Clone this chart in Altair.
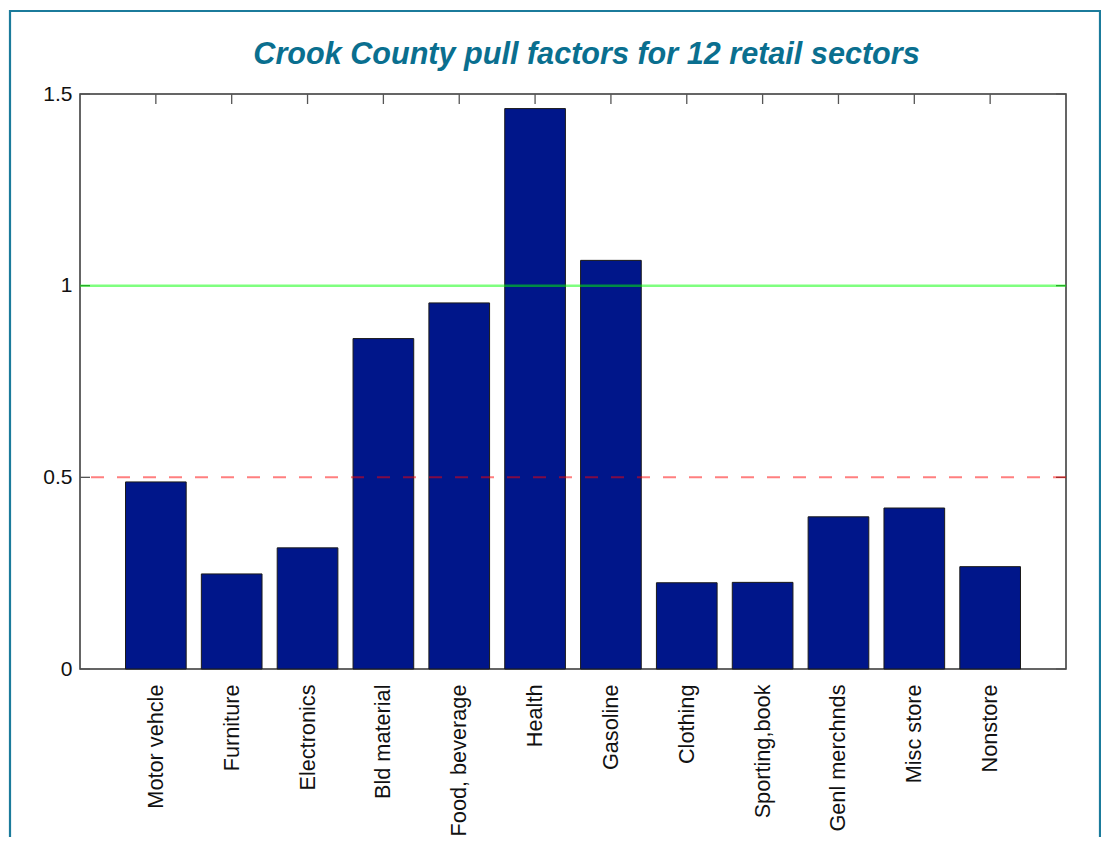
import altair as alt
import pandas as pd

# ---- data ----
sectors = ["Motor vehcle", "Furniture", "Electronics", "Bld material",
           "Food, beverage", "Health", "Gasoline", "Clothing",
           "Sporting,book", "Genl merchnds", "Misc store", "Nonstore"]
pull = [0.488, 0.248, 0.316, 0.862, 0.955, 1.462, 1.066, 0.225,
        0.226, 0.397, 0.420, 0.267]
green_level = [1.0]
red_level = [0.5]
y_ticks = [0, 0.5, 1, 1.5]
title_text = ["Crook County pull factors for 12 retail sectors"]

W, H = 986, 575
FONT = "Liberation Sans"

df = pd.DataFrame({"sector": sectors, "pull": pull})
ticks_df = pd.DataFrame({"v": y_ticks})

xs = alt.Scale(domain=sectors, paddingInner=0.2, paddingOuter=0.6)
ys = alt.Scale(domain=[0, 1.5], nice=False, zero=True)

x_axis = alt.Axis(title=None, labelAngle=-90, labelAlign="right",
                  labelBaseline="middle", labelPadding=15,
                  ticks=False, domain=False, labelFontSize=21.7,
                  labelColor="#111111", labelFont=FONT)
y_axis = alt.Axis(title=None, values=y_ticks, format="~g",
                  ticks=False, domain=False, grid=False,
                  labelPadding=8, labelFontSize=21,
                  labelColor="#111111", labelFont=FONT)

bars = alt.Chart(df).mark_bar(
    color="#00168a", stroke="#1a1a1a", strokeWidth=1
).encode(
    x=alt.X("sector:N", scale=xs, sort=sectors, axis=x_axis),
    y=alt.Y("pull:Q", scale=ys, axis=y_axis),
)

top_ticks = alt.Chart(df).mark_rule(color="#555555", strokeWidth=1.3).encode(
    x=alt.X("sector:N", scale=xs, sort=sectors, axis=x_axis),
    y=alt.value(0), y2=alt.value(10),
)

left_ticks = alt.Chart(ticks_df).mark_rule(color="#555555", strokeWidth=1.3).encode(
    y=alt.Y("v:Q", scale=ys, axis=y_axis),
    x=alt.value(0), x2=alt.value(10),
)
right_ticks = alt.Chart(ticks_df).mark_rule(color="#555555", strokeWidth=1.3).encode(
    y=alt.Y("v:Q", scale=ys, axis=y_axis),
    x=alt.value(W - 10), x2=alt.value(W),
)

green = alt.Chart(pd.DataFrame({"v": green_level})).mark_rule(
    color="#00ff00", opacity=0.5, strokeWidth=2.5
).encode(y=alt.Y("v:Q", scale=ys, axis=y_axis))

red = alt.Chart(pd.DataFrame({"v": red_level})).mark_rule(
    color="#ff0000", opacity=0.5, strokeWidth=2, strokeDash=[13, 13]
).encode(y=alt.Y("v:Q", scale=ys, axis=y_axis))

frame = alt.Chart(pd.DataFrame({"a": [0]})).mark_rect(
    fillOpacity=0, stroke="#1b7b9b", strokeWidth=2.2
).encode(
    x=alt.value(-70), x2=alt.value(1020),
    y=alt.value(-83), y2=alt.value(900),
)

title = alt.Chart(pd.DataFrame({"t": title_text})).mark_text(
    font=FONT, fontSize=30.6, fontStyle="italic",
    fontWeight="bold", color="#0a6f8f", align="center",
    baseline="alphabetic",
).encode(text="t:N", x=alt.value(W / 2 + 13.5), y=alt.value(-30))

chart = alt.layer(
    bars, top_ticks, left_ticks, right_ticks, green, red, frame, title
).properties(
    width=W, height=H,
    autosize="none",
    background="white",
    padding={"left": 72, "top": 86, "right": 35, "bottom": 168},
).configure_view(
    stroke="#333333", strokeWidth=1.5
)

chart.save("out.html", embed_options={"renderer": "svg", "actions": False})
